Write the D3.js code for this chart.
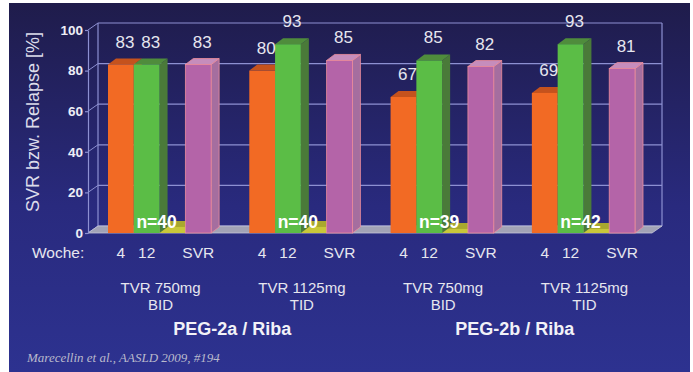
<!DOCTYPE html>
<html>
<head>
<meta charset="utf-8">
<script src="https://cdn.jsdelivr.net/npm/d3@7"></script>
<style>
  body { margin: 0; background: #fff; }
  svg { display: block; font-family: "Liberation Sans", Arial, sans-serif; }
</style>
</head>
<body>
<svg id="chart" width="693" height="372"></svg>
<script>
const svg = d3.select("#chart");

// data
const groups = ["g1", "g2", "g3", "g4"];
const regimens = [["TVR 750mg", "BID"], ["TVR 1125mg", "TID"], ["TVR 750mg", "BID"], ["TVR 1125mg", "TID"]];
const populations = ["PEG-2a / Riba", "PEG-2b / Riba"];
const week4 = [83, 80, 67, 69];
const week12 = [83, 93, 85, 93];
const relapse = [3, 3, 2, 2];
const svr = [83, 85, 82, 81];
const nLabels = ["n=40", "n=40", "n=39", "n=42"];
const slots = ["w4", "w12", "rel", "svr"];
const slotLabels = ["4", "12", "", "SVR"];
const yTicks = [0, 20, 40, 60, 80, 100];

// 3d offsets
const wall = { dx: 10, dy: -7 };
const depth = { dx: 8, dy: -6 };

const defs = svg.append("defs");
const bg = defs.append("linearGradient").attr("id", "bg")
  .attr("x1", "0%").attr("y1", "0%").attr("x2", "0%").attr("y2", "100%");
bg.append("stop").attr("offset", "0%").attr("stop-color", "#1f1c4b");
bg.append("stop").attr("offset", "55%").attr("stop-color", "#292a7e");
bg.append("stop").attr("offset", "100%").attr("stop-color", "#2d3290");

svg.append("rect").attr("x", 9).attr("y", 3).attr("width", 681).attr("height", 369)
  .attr("fill", "url(#bg)");

const y = d3.scaleLinear().domain([0, 100]).range([233, 30]);
const x = d3.scaleBand().domain(groups).range([108, 635]).paddingInner(0.27);
const xs = d3.scaleBand().domain(slots).range([0, x.bandwidth()]);

const frontLeft = 88, frontRight = 652;
const gridColor = "#8d90d2";

// back wall grid
const grid = svg.append("g");
grid.selectAll(".gl").data(yTicks).enter().append("line")
  .attr("x1", frontLeft + wall.dx).attr("x2", frontRight + wall.dx)
  .attr("y1", d => y(d) + wall.dy).attr("y2", d => y(d) + wall.dy)
  .attr("stroke", gridColor).attr("stroke-width", 1.2);
// left wall diagonals
grid.selectAll(".dg").data(yTicks).enter().append("line")
  .attr("x1", frontLeft).attr("x2", frontLeft + wall.dx)
  .attr("y1", d => y(d)).attr("y2", d => y(d) + wall.dy)
  .attr("stroke", gridColor).attr("stroke-width", 1);
[frontLeft + wall.dx, frontRight + wall.dx].forEach(xx => {
  grid.append("line").attr("x1", xx).attr("x2", xx)
    .attr("y1", y(100) + wall.dy).attr("y2", y(0) + wall.dy)
    .attr("stroke", gridColor).attr("stroke-width", 1.2);
});

// floor
svg.append("polygon")
  .attr("points", [
    [frontLeft, y(0)], [frontRight, y(0)],
    [frontRight + wall.dx, y(0) + wall.dy], [frontLeft + wall.dx, y(0) + wall.dy]
  ].map(p => p.join(",")).join(" "))
  .attr("fill", "#a2a3b6").attr("stroke", "#c4c5d8").attr("stroke-width", 0.8);

// y axis
const yAxis = svg.append("g").attr("transform", `translate(${frontLeft},0)`)
  .call(d3.axisLeft(y).tickValues(yTicks).tickSize(3).tickSizeOuter(0).tickPadding(2));
yAxis.selectAll(".domain, .tick line").attr("stroke", gridColor).attr("stroke-width", 1.2);
yAxis.selectAll("text").attr("fill", "#eeeef6").style("font-size", "13.5px")
  .style("font-weight", "bold").style("font-family", "Liberation Sans, Arial, sans-serif");

const colors = {
  w4: { front: "#f26a24", top: "#c5521d", side: "#c5521d", stroke: "none" },
  w12: { front: "#5bbd46", top: "#4f8c3c", side: "#4a7a39", stroke: "none" },
  rel: { front: "#c8c83a", top: "#a8a82e", side: "#94942a", stroke: "none" },
  svr: { front: "#b464a8", top: "#c68dbc", side: "#a56e9f", stroke: "#ec8d9c" }
};

function prism(g, x0, w, v, c) {
  const yt = y(v), yb = y(0);
  const pts = a => a.map(p => p.join(",")).join(" ");
  g.append("polygon")
    .attr("points", pts([[x0 + w, yb], [x0 + w + depth.dx, yb + depth.dy], [x0 + w + depth.dx, yt + depth.dy], [x0 + w, yt]]))
    .attr("fill", c.side).attr("stroke", c.stroke).attr("stroke-width", 0.8);
  g.append("polygon")
    .attr("points", pts([[x0, yt], [x0 + w, yt], [x0 + w + depth.dx, yt + depth.dy], [x0 + depth.dx, yt + depth.dy]]))
    .attr("fill", c.top).attr("stroke", c.stroke).attr("stroke-width", 0.8);
  g.append("rect").attr("x", x0).attr("y", yt).attr("width", w).attr("height", yb - yt)
    .attr("fill", c.front).attr("stroke", c.stroke).attr("stroke-width", 0.8);
}

const series = { w4: week4, w12: week12, rel: relapse, svr: svr };
const order = ["w4", "rel", "w12", "svr"];
const bars = svg.append("g");
groups.forEach((gname, i) => {
  order.forEach(s => {
    prism(bars, x(gname) + xs(s), xs.bandwidth(), series[s][i], colors[s]);
  });
});

// value labels
groups.forEach((gname, i) => {
  ["w4", "w12", "svr"].forEach(s => {
    svg.append("text")
      .attr("x", x(gname) + xs(s) + xs.bandwidth() / 2 + 4)
      .attr("y", y(series[s][i]) - 17)
      .attr("text-anchor", "middle")
      .attr("fill", "#e6e6ef").style("font-size", "17px")
      .text(series[s][i]);
  });
});

// n labels
svg.selectAll(".nlab").data(groups).enter().append("text")
  .attr("x", d => x(d) + xs("rel") - 3)
  .attr("y", y(0) - 5)
  .attr("text-anchor", "middle")
  .attr("fill", "#ffffff").style("font-size", "17.5px").style("font-weight", "bold")
  .text((d, i) => nLabels[i]);

// x labels
svg.append("text").attr("x", 32).attr("y", 258).attr("fill", "#e6e6ef")
  .style("font-size", "15.5px").text("Woche:");
groups.forEach(gname => {
  slots.forEach((s, j) => {
    if (!slotLabels[j]) return;
    svg.append("text")
      .attr("x", x(gname) + xs(s) + xs.bandwidth() / 2)
      .attr("y", 258).attr("text-anchor", "middle")
      .attr("fill", "#e6e6ef").style("font-size", "15.5px")
      .text(slotLabels[j]);
  });
});

groups.forEach((gname, i) => {
  const cx = x(gname) + x.bandwidth() / 2 + 1;
  regimens[i].forEach((t, k) => {
    svg.append("text").attr("x", cx).attr("y", 293 + k * 16.5)
      .attr("text-anchor", "middle").attr("fill", "#e6e6ef")
      .style("font-size", "15px").text(t);
  });
});

populations.forEach((p, k) => {
  const a = x(groups[k * 2]) + x.bandwidth() / 2;
  const b = x(groups[k * 2 + 1]) + x.bandwidth() / 2;
  svg.append("text").attr("x", (a + b) / 2 + 2).attr("y", 335)
    .attr("text-anchor", "middle").attr("fill", "#f2f2f8")
    .style("font-size", "18px").style("font-weight", "bold").text(p);
});

// y title
svg.append("text")
  .attr("transform", "translate(39,122) rotate(-90)")
  .attr("text-anchor", "middle").attr("fill", "#dcdcea")
  .style("font-size", "18px").text("SVR bzw. Relapse [%]");

// source
svg.append("text").attr("x", 27).attr("y", 362)
  .attr("fill", "#b9b9cc").style("font-family", "Liberation Serif, Times New Roman, serif")
  .style("font-style", "italic").style("font-size", "13px")
  .text("Marecellin et al., AASLD 2009, #194");
</script>
</body>
</html>
